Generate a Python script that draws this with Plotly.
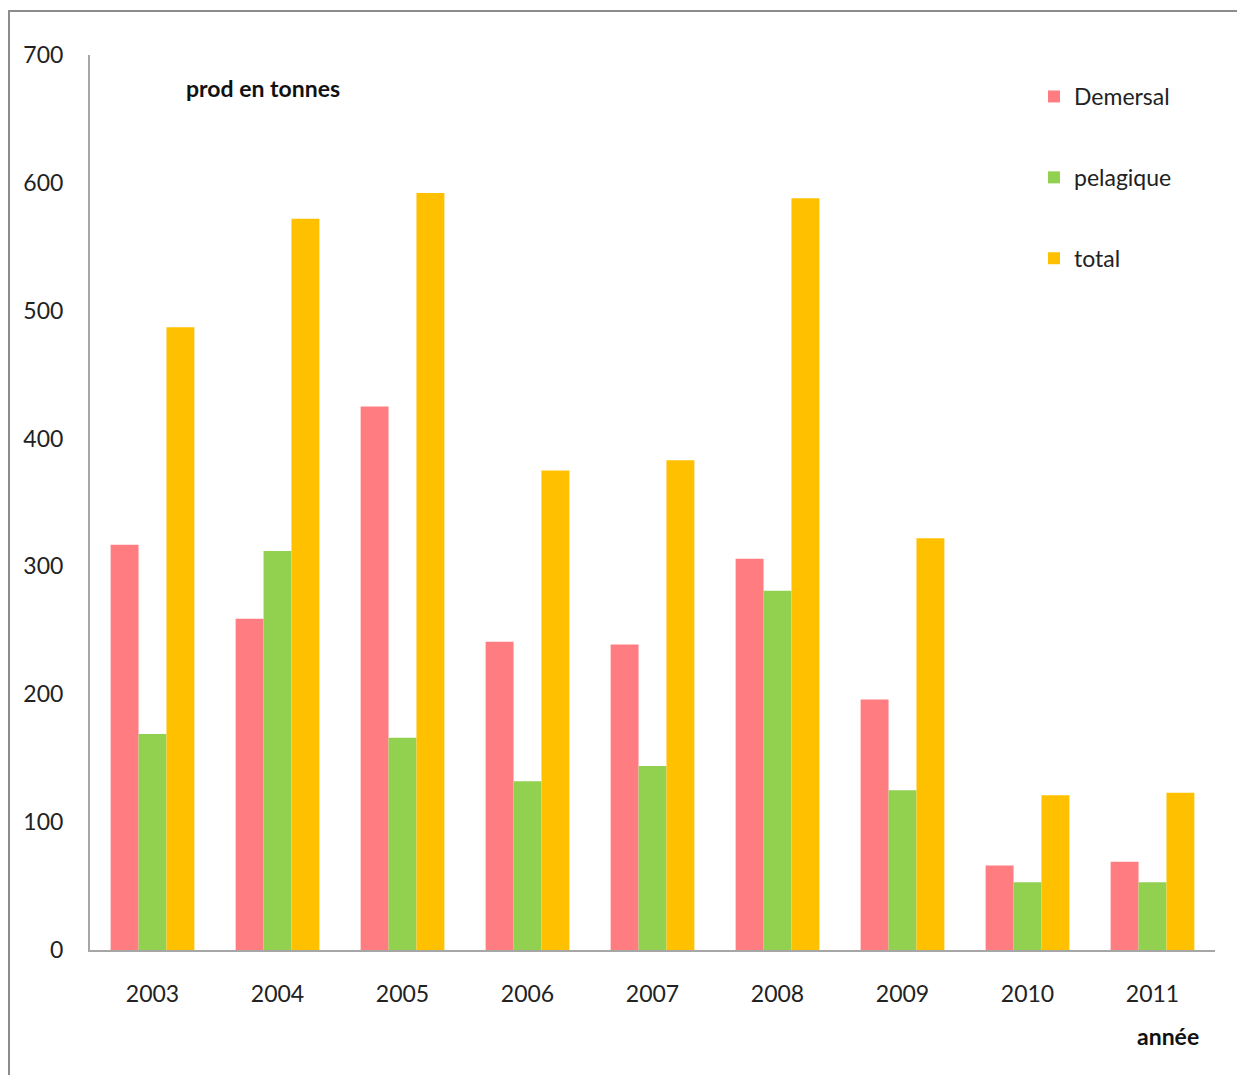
import plotly.graph_objects as go

# Annual production (tonnes) by category
years = ["2003", "2004", "2005", "2006", "2007", "2008", "2009", "2010", "2011"]
demersal = [317, 259, 425, 241, 239, 306, 196, 66, 69]
pelagique = [169, 312, 166, 132, 144, 281, 125, 53, 53]
total = [487, 572, 592, 375, 383, 588, 322, 121, 123]

series = [
    ("Demersal", demersal, "#FF7C80"),
    ("pelagique", pelagique, "#92D050"),
    ("total", total, "#FFC000"),
]

fig = go.Figure()
for name, vals, color in series:
    fig.add_trace(go.Bar(
        x=years, y=vals, name=name, legendgroup=name,
        marker=dict(color=color, line=dict(width=0)),
    ))

W, H = 1237, 1075
L, R, T, B = 90, 22, 55, 125
pw, ph = W - L - R, H - T - B

def px_x(x):
    return (x - L) / pw

def px_y(y):
    return (H - B - y) / ph

FONT = "Lato, Open Sans, sans-serif"
axis_font = dict(family=FONT, size=23, color="#222222")

fig.update_layout(
    width=W, height=H,
    margin=dict(l=L, r=R, t=T, b=B),
    paper_bgcolor="white", plot_bgcolor="white",
    barmode="group", bargap=0.33, bargroupgap=0,
    showlegend=True,
    legend=dict(
        x=px_x(1034), y=px_y(75), xanchor="left", yanchor="top",
        font=dict(family=FONT, size=23, color="#222222"),
        tracegroupgap=48, bgcolor="rgba(0,0,0,0)", itemwidth=30,
    ),
    xaxis=dict(
        showline=True, linecolor="#A6A6A6", linewidth=2,
        ticks="", tickfont=axis_font, showgrid=False,
        ticklabelstandoff=22,
    ),
    yaxis=dict(
        range=[0, 700], dtick=100, showline=True, linecolor="#A6A6A6", linewidth=2,
        ticks="", tickfont=axis_font, showgrid=False, zeroline=False,
        ticklabelstandoff=20,
    ),
    annotations=[
        dict(text="<b>prod en tonnes</b>", xref="paper", yref="paper",
             x=px_x(184), y=px_y(88), xanchor="left", yanchor="middle",
             showarrow=False, font=dict(family=FONT, size=23, color="#111111")),
        dict(text="<b>année</b>", xref="paper", yref="paper",
             x=px_x(1201), y=px_y(1036), xanchor="right", yanchor="middle",
             showarrow=False, font=dict(family=FONT, size=23, color="#111111")),
    ],
    shapes=[
        dict(type="rect", xref="paper", yref="paper",
             x0=px_x(9), y0=px_y(1090), x1=px_x(1250), y1=px_y(11),
             line=dict(color="#8C8C8C", width=2), fillcolor="rgba(0,0,0,0)", layer="below"),
    ],
)

fig.write_html("out.html")
